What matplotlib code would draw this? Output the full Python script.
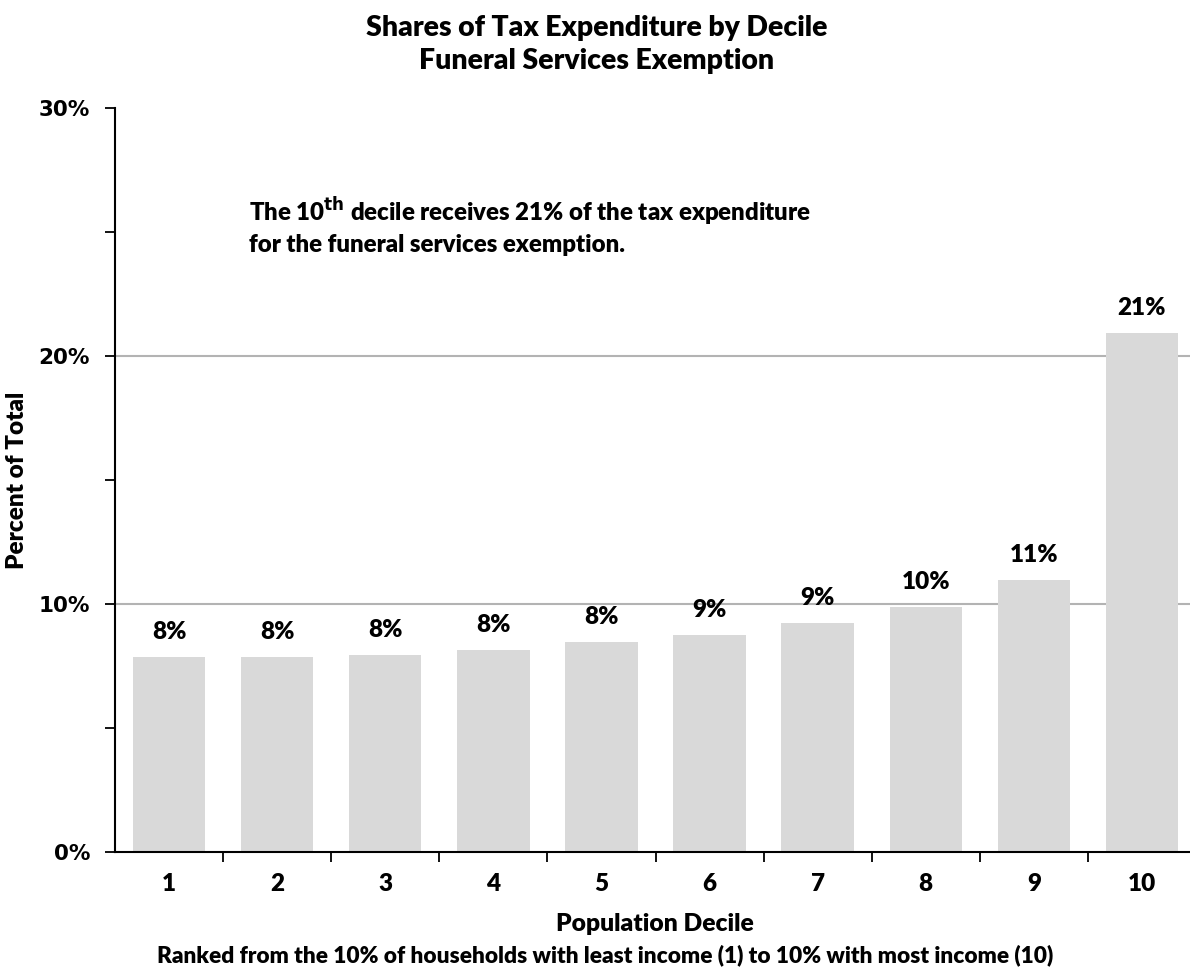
import matplotlib
matplotlib.use("Agg")
import matplotlib.pyplot as plt
from matplotlib.ticker import FuncFormatter, MultipleLocator

deciles = ["1", "2", "3", "4", "5", "6", "7", "8", "9", "10"]
shares = [7.86, 7.86, 7.93, 8.13, 8.47, 8.74, 9.22, 9.88, 10.96, 20.92]
bar_labels = ["8%", "8%", "8%", "8%", "8%", "9%", "9%", "10%", "11%", "21%"]

plt.rcParams["font.family"] = ["Lato", "DejaVu Sans"]
W = "heavy"

fig = plt.figure(figsize=(11.9, 9.73), dpi=100)
ax = fig.add_axes([115 / 1190, 1 - 852 / 973, (1196 - 115) / 1190, (852 - 108) / 973])

x = list(range(1, len(deciles) + 1))
ax.bar(x, shares, width=0.67, color="#d9d9d9", zorder=2)

for xi, v, lab in zip(x, shares, bar_labels):
    ax.annotate(lab, (xi, v), xytext=(0, 10), textcoords="offset points",
                ha="center", va="bottom", fontsize=17.5, fontweight=W)

ax.set_xlim(0.5, 10.5)
ax.set_ylim(0, 30)

# y axis
ax.yaxis.set_major_locator(MultipleLocator(10))
ax.yaxis.set_minor_locator(MultipleLocator(5))
ax.yaxis.set_major_formatter(FuncFormatter(lambda v, p: "%d%%" % v))
ax.tick_params(axis="y", which="both", direction="out", length=7, width=1.3,
               labelsize=15.5, pad=11)
for t in ax.get_yticklabels():
    t.set_family(["DejaVu Sans"])
    t.set_fontweight("bold")

# x axis: ticks between categories, labels at centres
ax.set_xticks([i + 0.5 for i in range(1, 10)])
ax.set_xticklabels([])
ax.set_xticks(x, minor=True)
ax.set_xticklabels(deciles, minor=True, fontsize=17.5, fontweight=W)
ax.tick_params(axis="x", which="major", direction="out", length=7, width=1.3)
ax.tick_params(axis="x", which="minor", length=0, pad=15)

for yv in (10, 20):
    ax.axhline(yv, color="#b3b3b3", lw=1.5, zorder=1)

for s in ("top", "right"):
    ax.spines[s].set_visible(False)
ax.spines["left"].set_linewidth(1.5)
ax.spines["bottom"].set_linewidth(1.5)

ax.set_ylabel("Percent of Total", fontsize=17.5, fontweight=W)
ax.yaxis.set_label_coords(-0.0805, 0.5)

fig.text(597 / 1190, 1 - 28 / 973, "Shares of Tax Expenditure by Decile", ha="center", va="center",
         fontsize=20.4, fontweight=W)
fig.text(597 / 1190, 1 - 61 / 973, "Funeral Services Exemption", ha="center", va="center",
         fontsize=20.4, fontweight=W)

fig.text(249 / 1190, 1 - 212 / 973, r"The 10$^{\mathbf{th}}$ decile receives 21% of the tax expenditure",
         ha="left", va="center", fontsize=17.3, fontweight=W)
fig.text(249 / 1190, 1 - 245 / 973, "for the funeral services exemption.",
         ha="left", va="center", fontsize=17.3, fontweight=W)

fig.text(655 / 1190, 1 - 924 / 973, "Population Decile", ha="center", va="center",
         fontsize=17.7, fontweight=W)
fig.text(605 / 1190, 1 - 955 / 973,
         "Ranked from the 10% of households with least income (1) to 10% with most income (10)",
         ha="center", va="center", fontsize=16.3, fontweight=W)

fig.savefig("out.png", dpi=100)
